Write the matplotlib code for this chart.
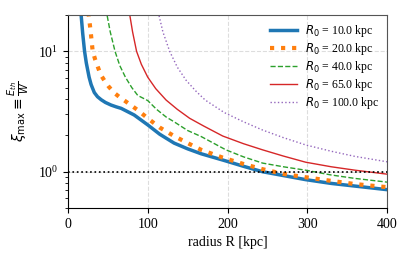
import matplotlib
matplotlib.use('Agg')
import matplotlib.pyplot as plt

plt.rcParams['font.family'] = ['Liberation Serif', 'DejaVu Serif']
plt.rcParams['font.size'] = 10

# radius [kpc] and xi_max for each R0
r_10 = [15.5, 16.5, 18.5, 20.8, 23.0, 26.5, 29.0, 33.0, 37.0, 41.7, 47.0, 54.0, 60.4,
        66.7, 83.0, 100.0, 115.0, 133.0, 150.0, 167.0, 196.0, 220.0, 244.0, 270.0, 298.0,
        330.0, 360.0, 400.0]
xi_10 = [26.0, 20.0, 14.0, 10.0, 8.0, 6.1, 5.3, 4.55, 4.2, 3.96, 3.76, 3.58, 3.46,
         3.36, 2.96, 2.45, 2.05, 1.73, 1.55, 1.41, 1.24, 1.11, 1.0, 0.93, 0.86,
         0.80, 0.76, 0.71]

r_20 = [24.5, 26.0, 28.3, 31.0, 34.0, 37.5, 41.0, 45.8, 51.0, 58.0, 65.0, 73.0, 87.5,
        100.0, 115.0, 133.0, 150.0, 167.0, 194.0, 220.0, 244.0, 270.0, 298.0, 330.0, 360.0,
        400.0]
xi_20 = [26.0, 20.0, 14.9, 10.0, 8.6, 7.4, 6.4, 5.7, 5.1, 4.52, 4.15, 3.81, 3.25,
         2.78, 2.33, 1.98, 1.73, 1.52, 1.31, 1.16, 1.05, 0.96, 0.90, 0.84, 0.79,
         0.745]

r_40 = [46.0, 49.0, 53.0, 59.0, 65.0, 72.0, 80.0, 87.5, 100.0, 111.0, 123.0, 133.0,
        150.0, 167.0, 198.0, 220.0, 244.0, 270.0, 298.0, 330.0, 360.0, 400.0]
xi_40 = [26.0, 20.0, 14.5, 10.0, 7.6, 6.1, 5.0, 4.3, 3.9, 3.3, 2.85, 2.6,
         2.2, 1.96, 1.52, 1.33, 1.18, 1.1, 1.03, 0.94, 0.88, 0.82]

r_65 = [74.0, 77.5, 81.0, 86.0, 92.0, 100.0, 110.0, 123.0, 137.0, 152.5, 170.0, 194.0,
        220.0, 244.0, 270.0, 298.0, 330.0, 360.0, 400.0]
xi_65 = [26.0, 20.0, 14.5, 10.0, 7.8, 6.1, 4.9, 3.94, 3.3, 2.78, 2.4, 1.98,
         1.71, 1.52, 1.35, 1.2, 1.1, 1.03, 0.955]

r_100 = [110.0, 114.0, 119.0, 127.5, 137.0, 148.0, 160.0, 172.0, 196.0, 220.0, 244.0,
         270.0, 298.0, 330.0, 360.0, 400.0]
xi_100 = [26.0, 20.0, 14.5, 10.0, 7.4, 5.76, 4.7, 3.94, 3.1, 2.6, 2.22,
          1.92, 1.67, 1.48, 1.34, 1.21]

fig, ax = plt.subplots(figsize=(4.07, 2.6), dpi=100)
fig.subplots_adjust(left=0.167, right=0.951, bottom=0.2, top=0.942)

ax.plot(r_10, xi_10, color='#1f77b4', lw=2.5, label=r'$R_0$ = 10.0 kpc')
ax.plot(r_20, xi_20, color='#ff7f0e', lw=3, ls=':', label=r'$R_0$ = 20.0 kpc')
ax.plot(r_40, xi_40, color='#2ca02c', lw=1, ls='--', label=r'$R_0$ = 40.0 kpc')
ax.plot(r_65, xi_65, color='#d62728', lw=1, label=r'$R_0$ = 65.0 kpc')
ax.plot(r_100, xi_100, color='#9467bd', lw=1, ls=':', label=r'$R_0$ = 100.0 kpc')
ax.axhline(1.0, color='black', lw=1.2, ls=':')

ax.set_yscale('log')
ax.set_xlim(0, 400)
ax.set_ylim(0.5, 20)
ax.grid(True, which='major', color='#dddddd', ls='--', lw=0.8)
ax.set_xlabel('radius R [kpc]')
ax.set_ylabel(r'$\xi_{\max} \equiv \frac{E_{th}}{W}$')
for s in ['top', 'right']:
    ax.spines[s].set_color('#555555')

ax.legend(loc='upper right', frameon=False, fontsize=8.5, handlelength=2.3,
          handletextpad=0.6, labelspacing=0.17, borderaxespad=0.3)

plt.savefig('out.png')
